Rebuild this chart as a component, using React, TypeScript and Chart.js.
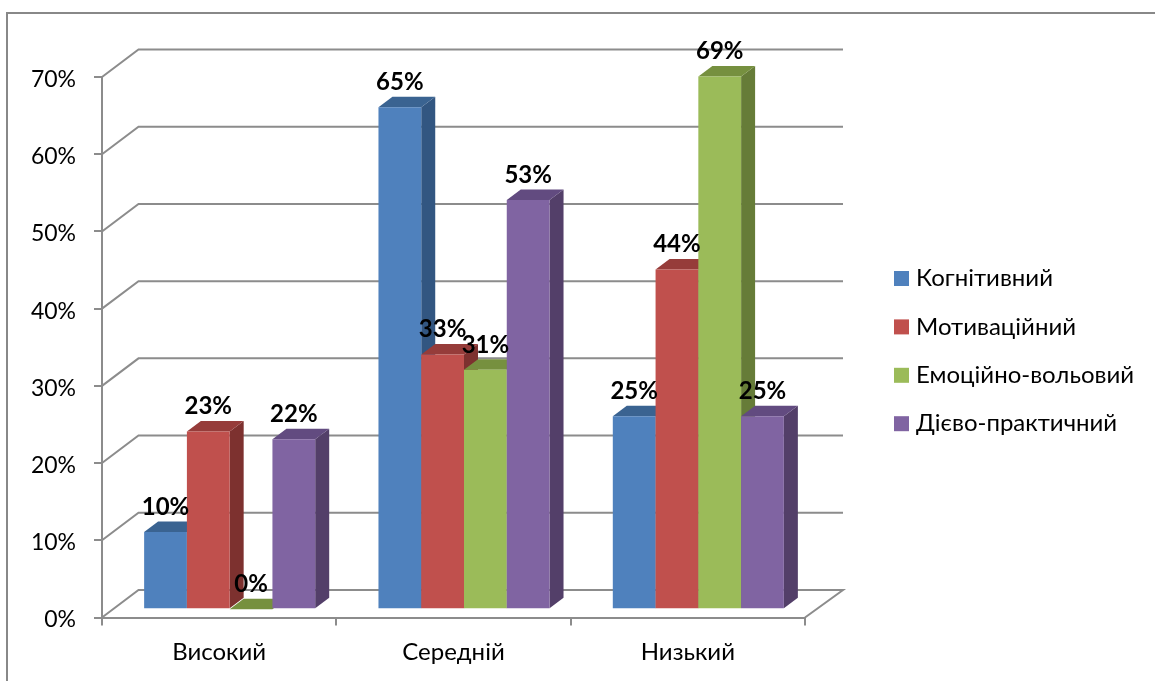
import React, { useEffect, useRef } from "react";
import { Chart, registerables } from "chart.js";

Chart.register(...registerables);

const categories = ["Високий", "Середній", "Низький"];
const seriesNames = ["Когнітивний", "Мотиваційний", "Емоційно-вольовий", "Дієво-практичний"];
const cognitive = [10, 65, 25];
const motivational = [23, 33, 44];
const emotional = [0, 31, 69];
const practical = [22, 53, 25];
const fronts = ["#4F81BD", "#C0504D", "#9BBB59", "#8064A2"];
const tops = ["#3A6391", "#963C3A", "#76903F", "#624B80"];
const sides = ["#325681", "#7D312F", "#667C38", "#533F69"];

const FONT = "Lato, Carlito, Calibri, sans-serif";
const GRID = "#8C8C8C";
const SHIFT_X = 10.5, SHIFT_Y = -8.3;
const DEPTH_X = 14, DEPTH_Y = 10.5;
const WALL_X = 36.5, WALL_Y = 27.5;

const wallPlugin = {
  id: "wall",
  beforeDatasetsDraw(chart: any) {
    const { ctx, chartArea: a } = chart;
    const y = chart.scales.y;
    ctx.save();
    ctx.strokeStyle = GRID;
    ctx.lineWidth = 2;
    y.ticks.forEach((t: any) => {
      const py = y.getPixelForValue(t.value);
      ctx.beginPath();
      ctx.moveTo(a.left, py);
      ctx.lineTo(a.left + WALL_X, py - WALL_Y);
      ctx.lineTo(a.right + WALL_X + 1.5, py - WALL_Y);
      if (t.value === 0) ctx.lineTo(a.right, py);
      ctx.stroke();
    });
    ctx.restore();

    // Series are painted first to last so that each front face covers the
    // side of its left neighbour, as in the 3-D original.
    ctx.save();
    ctx.translate(SHIFT_X, SHIFT_Y);
    chart.data.datasets.forEach((_: any, i: number) => {
      chart.getDatasetMeta(i).data.forEach((bar: any) => {
        const l = bar.x - bar.width / 2, r = bar.x + bar.width / 2;
        const t = bar.y, b = bar.base;
        ctx.fillStyle = sides[i];
        ctx.beginPath();
        ctx.moveTo(r, t);
        ctx.lineTo(r + DEPTH_X, t - DEPTH_Y);
        ctx.lineTo(r + DEPTH_X, b - DEPTH_Y);
        ctx.lineTo(r, b);
        ctx.closePath();
        ctx.fill();
        ctx.fillStyle = tops[i];
        ctx.beginPath();
        ctx.moveTo(l, t);
        ctx.lineTo(l + DEPTH_X, t - DEPTH_Y);
        ctx.lineTo(r + DEPTH_X, t - DEPTH_Y);
        ctx.lineTo(r, t);
        ctx.closePath();
        ctx.fill();
        bar.draw(ctx);
      });
    });
    ctx.restore();
  },
  beforeDatasetDraw() {
    return false;
  },
  afterDatasetsDraw(chart: any) {
    const { ctx } = chart;
    ctx.save();
    ctx.fillStyle = "#000";
    ctx.font = `bold 24px ${FONT}`;
    ctx.textAlign = "center";
    ctx.textBaseline = "middle";
    chart.data.datasets.forEach((ds: any, i: number) => {
      chart.getDatasetMeta(i).data.forEach((bar: any, j: number) => {
        ctx.fillText(`${ds.data[j]}%`, bar.x + SHIFT_X, bar.y + SHIFT_Y - 25);
      });
    });
    ctx.font = `24px ${FONT}`;
    ctx.textAlign = "left";
    chart.data.datasets.forEach((ds: any, i: number) => {
      const cy = 278.5 + i * 48.4;
      ctx.fillStyle = fronts[i];
      ctx.fillRect(894, cy - 7.5, 15, 15);
      ctx.fillStyle = "#000";
      ctx.fillText(ds.label, 916, cy);
    });
    ctx.restore();
  },
};

export default function App() {
  const ref = useRef<HTMLCanvasElement>(null);
  useEffect(() => {
    const data = [cognitive, motivational, emotional, practical];
    const chart = new Chart(ref.current as HTMLCanvasElement, {
      type: "bar",
      data: {
        labels: categories,
        datasets: seriesNames.map((label, i) => ({
          label,
          data: data[i],
          backgroundColor: fronts[i],
          borderWidth: 0,
          categoryPercentage: 0.73,
          barPercentage: 1,
        })),
      },
      options: {
        animation: false,
        responsive: false,
        layout: { padding: { left: 0, top: 77, right: 350, bottom: 0 } },
        plugins: { legend: { display: false }, tooltip: { enabled: false } },
        scales: {
          x: {
            afterFit: (s: any) => { s.height = 63.5; },
            border: { color: GRID, width: 2 },
            grid: { offset: true, drawOnChartArea: false, drawTicks: true, tickLength: 8, color: GRID, lineWidth: 2 },
            ticks: { color: "#000", font: { family: FONT, size: 24 }, padding: 12, maxRotation: 0 },
          },
          y: {
            min: 0,
            max: 70,
            afterFit: (s: any) => { s.width = 102; },
            border: { color: GRID, width: 2 },
            grid: { drawOnChartArea: false, drawTicks: true, tickLength: 8, color: GRID, lineWidth: 2 },
            ticks: { stepSize: 10, color: "#000", font: { family: FONT, size: 23 }, padding: 18, labelOffset: 2.5, callback: (v: any) => `${v}%` },
          },
        },
      },
      plugins: [wallPlugin],
    } as any);
    return () => chart.destroy();
  }, []);
  return (
    <div style={{ position: "absolute", left: 0, top: 0, width: 1155, height: 681, background: "#fff", overflow: "hidden" }}>
      <canvas ref={ref} width={1155} height={681} style={{ position: "absolute", left: 0, top: 0 }} />
      <div style={{ position: "absolute", left: 6, top: 12, width: 1149, height: 669, borderLeft: "2px solid #888", borderTop: "2px solid #888", boxSizing: "border-box" }} />
    </div>
  );
}
